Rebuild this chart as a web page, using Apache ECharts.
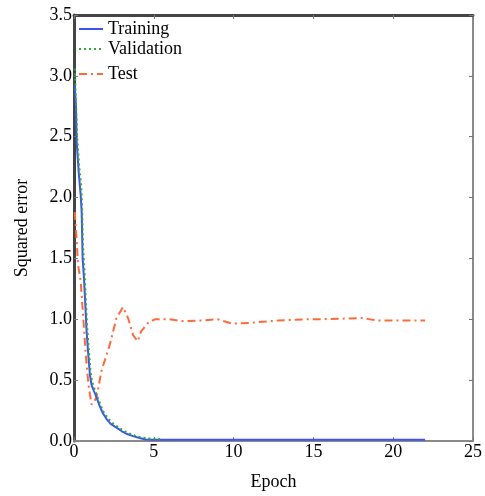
<!DOCTYPE html>
<html>
<head>
<meta charset="utf-8">
<script src="https://cdn.jsdelivr.net/npm/echarts@6/dist/echarts.min.js"></script>
<style>html,body{margin:0;padding:0;background:#fff;}#c{width:485px;height:496px;}</style>
</head>
<body>
<div id="c"></div>
<script>
var xTicks = [0, 5, 10, 15, 20, 25];
var yTicks = [0.0, 0.5, 1.0, 1.5, 2.0, 2.5, 3.0, 3.5];

var trainX = [0.05, 0.12, 0.17, 0.3, 0.42, 0.48, 0.54, 0.62, 0.69, 0.79, 0.9, 1.0, 1.1, 1.25, 1.41, 1.6, 1.8, 2.04, 2.3, 2.66, 3.0, 3.28, 3.7, 4.1, 4.5, 5, 8, 12, 16, 20, 22];
var trainY = [2.92, 2.75, 2.45, 2.2, 2.02, 1.88, 1.5, 1.35, 1.17, 0.9, 0.7, 0.54, 0.46, 0.41, 0.36, 0.29, 0.23, 0.18, 0.14, 0.11, 0.08, 0.06, 0.04, 0.025, 0.012, 0.01, 0.01, 0.01, 0.01, 0.01, 0.01];

var valX = [0.05, 0.12, 0.2, 0.33, 0.45, 0.5, 0.57, 0.65, 0.72, 0.82, 0.93, 1.03, 1.13, 1.28, 1.45, 1.65, 1.85, 2.1, 2.4, 2.75, 3.1, 3.4, 3.8, 4.2, 4.6, 5.0, 5.4];
var valY = [3.06, 2.8, 2.5, 2.25, 2.1, 1.95, 1.6, 1.42, 1.22, 0.95, 0.75, 0.58, 0.49, 0.43, 0.37, 0.3, 0.24, 0.19, 0.15, 0.115, 0.085, 0.065, 0.045, 0.03, 0.022, 0.018, 0.016];

var testX = [0.05, 0.17, 0.25, 0.42, 0.48, 0.58, 0.75, 0.9, 1.0, 1.1, 1.25, 1.41, 1.73, 2.24, 2.66, 3.07, 3.39, 3.7, 4.0, 4.2, 4.7, 5.1, 6.0, 6.8, 8.0, 9.0, 9.9, 11.0, 11.8, 12.8, 14.5, 15.3, 16.8, 18.0, 19.0, 22.0];
var testY = [1.88, 1.64, 1.45, 1.31, 1.2, 1.01, 0.69, 0.47, 0.38, 0.3, 0.32, 0.36, 0.58, 0.79, 1.01, 1.1, 1.01, 0.87, 0.82, 0.9, 0.98, 1.0, 1.0, 0.985, 0.99, 1.0, 0.965, 0.97, 0.98, 0.99, 1.0, 1.0, 1.005, 1.01, 0.99, 0.99];

function pairs(xs, ys) { return xs.map(function (x, i) { return [x, ys[i]]; }); }

var FONT = 'Times New Roman';
var chart = echarts.init(document.getElementById('c'), null, { renderer: 'canvas' });

function legendFor(name, top) {
  return {
    data: [name], left: 78, top: top, orient: 'vertical',
    itemWidth: 24, itemHeight: 14, itemGap: 4,
    itemStyle: { opacity: 0 },
    textStyle: { fontFamily: FONT, fontSize: 18, color: '#000' },
    padding: 0
  };
}

chart.setOption({
  animation: false,
  backgroundColor: '#fff',
  textStyle: { fontFamily: FONT },
  grid: { left: 74, right: 9, top: 15, bottom: 52 },
  legend: [legendFor('Training', 20), legendFor('Validation', 40), legendFor('Test', 65)],
  xAxis: [{
    type: 'value', min: 0, max: 25, interval: 5, position: 'bottom',
    name: 'Epoch', nameLocation: 'middle', nameGap: 32,
    nameTextStyle: { fontFamily: FONT, fontSize: 18, color: '#000' },
    axisLine: { show: true, onZero: false, lineStyle: { color: '#8a8a8a', width: 2 } },
    axisTick: { show: true, inside: true, length: 4, lineStyle: { color: '#777' } },
    axisLabel: { fontFamily: FONT, fontSize: 18, color: '#000', margin: 2 },
    splitLine: { show: false }
  }, {
    type: 'value', min: 0, max: 25, interval: 5, position: 'top',
    axisLine: { show: true, onZero: false, lineStyle: { color: '#444', width: 3 } },
    axisTick: { show: true, inside: true, length: 4, lineStyle: { color: '#777' } },
    axisLabel: { show: false }, splitLine: { show: false }
  }],
  yAxis: [{
    type: 'value', min: 0, max: 3.5, interval: 0.5, position: 'left',
    name: 'Squared error', nameLocation: 'middle', nameGap: 43, nameRotate: 90,
    nameTextStyle: { fontFamily: FONT, fontSize: 18, color: '#000' },
    axisLine: { show: true, onZero: false, lineStyle: { color: '#444', width: 3 } },
    axisTick: { show: true, inside: true, length: 4, lineStyle: { color: '#777' } },
    axisLabel: { fontFamily: FONT, fontSize: 18, color: '#000', margin: 2,
      formatter: function (v) { return v.toFixed(1); } },
    splitLine: { show: false }
  }, {
    type: 'value', min: 0, max: 3.5, interval: 0.5, position: 'right',
    axisLine: { show: true, onZero: false, lineStyle: { color: '#8a8a8a', width: 2 } },
    axisTick: { show: true, inside: true, length: 4, lineStyle: { color: '#777' } },
    axisLabel: { show: false }, splitLine: { show: false }
  }],
  series: [{
    name: 'Training', type: 'line', xAxisIndex: 0, yAxisIndex: 0,
    data: pairs(trainX, trainY), symbol: 'none', z: 3,
    lineStyle: { color: '#3a55f0', width: 2, type: 'solid' },
    itemStyle: { color: '#3a55f0' }
  }, {
    name: 'Validation', type: 'line', xAxisIndex: 0, yAxisIndex: 0,
    data: pairs(valX, valY), symbol: 'none', z: 4,
    lineStyle: { color: '#33a833', width: 2, type: [2, 3] },
    itemStyle: { color: '#33a833' }
  }, {
    name: 'Test', type: 'line', xAxisIndex: 0, yAxisIndex: 0,
    data: pairs(testX, testY), symbol: 'none', z: 2,
    lineStyle: { color: '#ff6a3a', width: 2, type: [8, 4, 2, 4] },
    itemStyle: { color: '#ff6a3a' }
  }]
});
</script>
</body>
</html>
